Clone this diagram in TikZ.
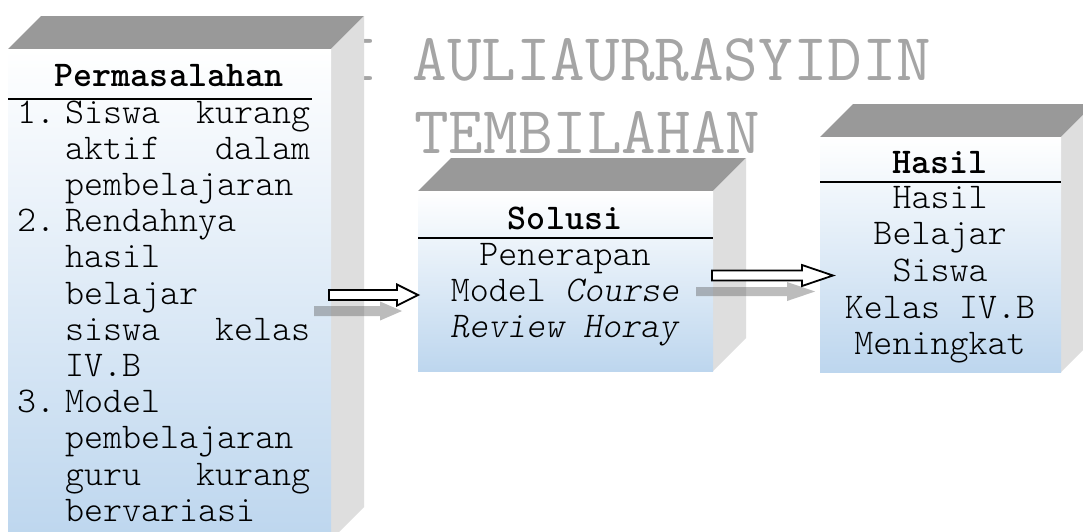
\documentclass[tikz,border=0pt]{standalone}
\usepackage{fontspec}
\definecolor{topgray}{RGB}{153,153,153}
\definecolor{sidegray}{RGB}{222,222,222}
\definecolor{faceblue}{RGB}{189,214,238}
\definecolor{wmgray}{RGB}{165,165,165}
\definecolor{shadowgray}{RGB}{96,96,96}
\newcommand\cuboid[4]{%
  \fill[topface] (#1,#2) -- (#1+33,#2-33) -- (#3+33,#2-33) -- (#3,#2) -- cycle;
  \fill[sideface] (#3,#2) -- (#3+33,#2-33) -- (#3+33,#4-33) -- (#3,#4) -- cycle;
  \fill[frontface] (#1,#2) rectangle (#3,#4);
}
% style, x1, x2, yc, shaft half, head half, head length
\newcommand\blockarrow[7]{%
  \path[#1] (#2,#4-#5) -- (#3-#7,#4-#5) -- (#3-#7,#4-#6) -- (#3,#4)
    -- (#3-#7,#4+#6) -- (#3-#7,#4+#5) -- (#2,#4+#5) -- cycle;
}
\begin{document}
\begin{tikzpicture}[x=1pt,y=-1pt,
  txt/.style={font=\ttfamily\fontseries{l}\fontsize{36.2}{36.2}\selectfont, inner sep=0pt},
  txtb/.style={font=\ttfamily\fontseries{l}\fontsize{36.2}{36.7}\selectfont, inner sep=0pt},
  hdr/.style={font=\ttfamily\bfseries\fontsize{36.2}{36.2}\selectfont, inner sep=0pt, anchor=base},
  wm/.style={font=\ttfamily\fontsize{67.2}{70}\selectfont, text=wmgray, inner sep=0pt, anchor=base west},
  topface/.style={fill=topgray},
  sideface/.style={fill=sidegray},
  frontface/.style={top color=white, bottom color=faceblue},
  hline/.style={line width=1.5pt},
  warrow/.style={draw=black, fill=white, line width=1.8pt, line join=miter},
  garrow/.style={fill=shadowgray, fill opacity=0.42},
]
\useasboundingbox (0,0) rectangle (1083,531);
\fill[white] (0,0) rectangle (1083,531);

% watermark
\node[wm] (wm1) at (343,80) {I AULIAURRASYIDIN};
\node[wm] (wm2) at (414,153) {TEMBILAHAN};

% boxes
\cuboid{8}{49}{331}{540}
\cuboid{418}{191}{713}{371}
\cuboid{820}{137}{1061}{372}

% box 1
\node[hdr] (h1) at (169,86) {Permasalahan};
\draw[hline] (8,99) -- (312,99);
\node[txt, anchor=base west] (b1) at (17,123) {\begin{tabular}[t]{@{}p{48pt}@{}p{245pt}@{}}
1. & Siswa\hfill kurang\\
   & aktif\hfill dalam\\
   & pembelajaran\\
2. & Rendahnya\\
   & hasil\\
   & belajar\\
   & siswa\hfill kelas\\
   & IV.B\\
3. & Model\\
   & pembelajaran\\
   & guru\hfill kurang\\
   & bervariasi
\end{tabular}};

% box 2
\node[hdr] (h2) at (565,229) {Solusi};
\draw[hline] (418,238) -- (713,238);
\node[txt, anchor=base] (b2) at (565,265) {\begin{tabular}[t]{@{}c@{}}
Penerapan\\
Model \textit{Course}\\
\textit{Review Horay}
\end{tabular}};

% box 3
\node[hdr] (h3) at (940,173) {Hasil};
\draw[hline] (820,182) -- (1061,182);
\node[txtb, anchor=base] (b3) at (940,208) {\begin{tabular}[t]{@{}c@{}}
Hasil\\
Belajar\\
Siswa\\
Kelas IV.B\\
Meningkat
\end{tabular}};

% arrows
\blockarrow{garrow}{314}{402}{311}{5}{9.5}{22}
\blockarrow{garrow}{696}{815}{291.5}{4.5}{9.5}{28}
\blockarrow{warrow}{329}{418}{295}{5}{10.5}{21}
\blockarrow{warrow}{712}{833}{275.5}{5}{10.5}{31}
\end{tikzpicture}
\end{document}
